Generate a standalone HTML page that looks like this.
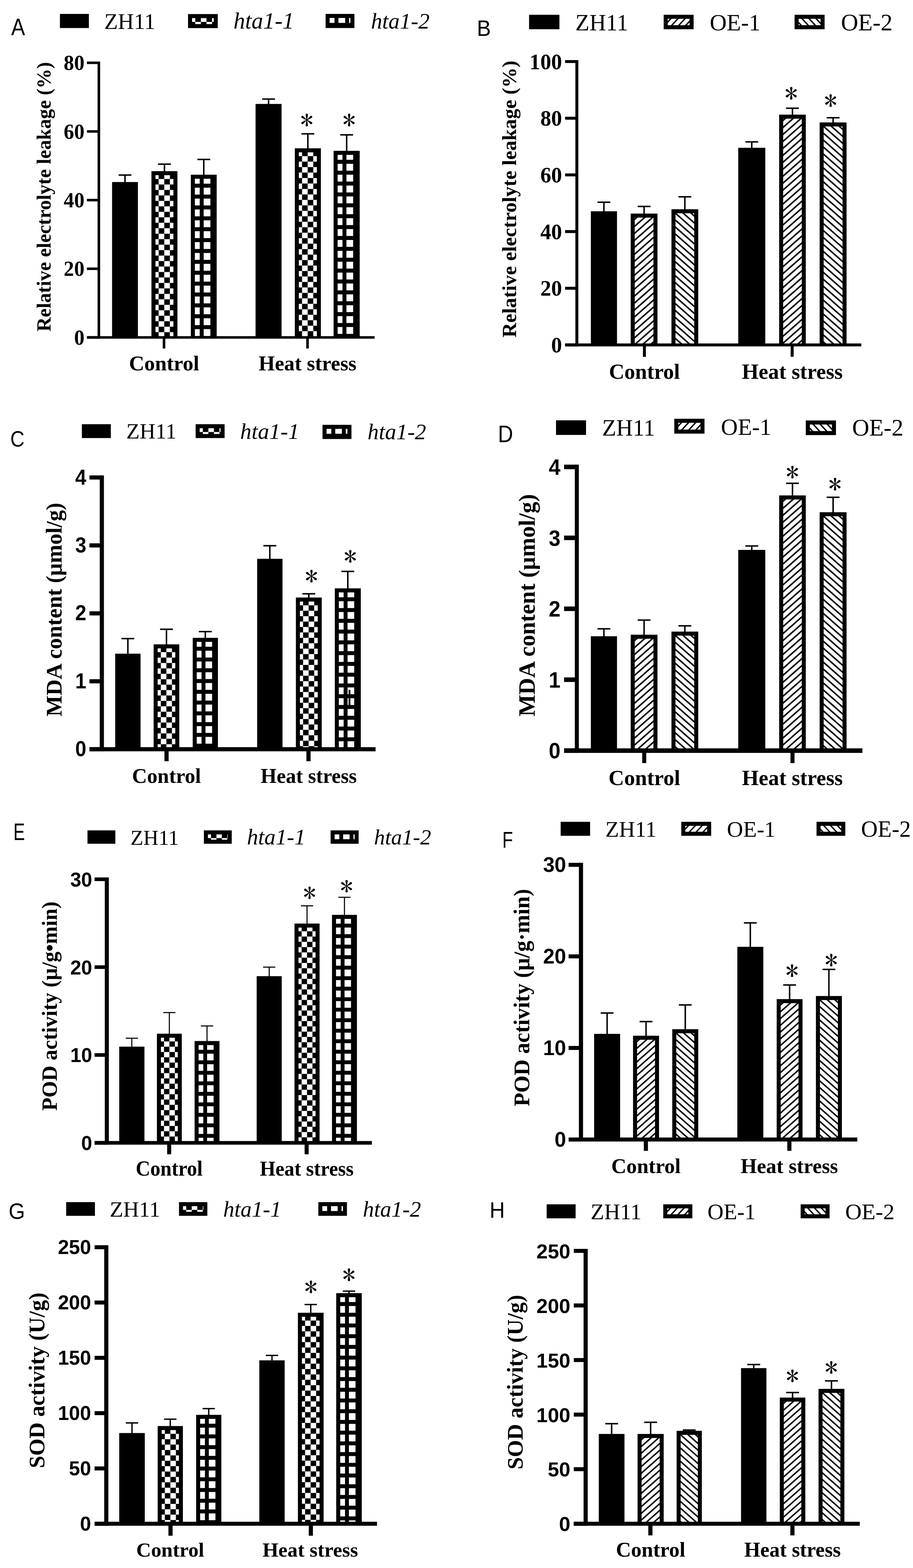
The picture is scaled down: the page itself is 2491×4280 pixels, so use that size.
<!DOCTYPE html>
<html lang="en">
<head>
<meta charset="utf-8">
<title>Figure: electrolyte leakage, MDA content, POD and SOD activity under heat stress</title>
<style>
html,body{margin:0;padding:0;background:#fff;}
body{width:2491px;height:4280px;overflow:hidden;}
svg{display:block;}
text{fill:#000;white-space:pre;}
.s{font-family:"Liberation Serif","DejaVu Serif",serif;}
.a{font-family:"Liberation Sans","DejaVu Sans",sans-serif;}
.b{font-weight:bold;}
.i{font-style:italic;}
.st{font-family:"IPAGothic","IPAPGothic","Liberation Serif",serif;}
</style>
</head>
<body>
<svg width="2491" height="4280" viewBox="0 0 2491 4280">
<defs>
<pattern id="ck" patternUnits="userSpaceOnUse" x="-6.6" y="-4.5" width="30.6" height="29.86">
<rect width="30.6" height="29.86" fill="#000"/>
<rect x="0" y="0" width="15.3" height="14.93" fill="#fff"/>
<rect x="15.3" y="14.93" width="15.3" height="14.93" fill="#fff"/>
</pattern>
<pattern id="gr" patternUnits="userSpaceOnUse" x="-5.1" y="-5.3" width="29.1" height="29.7">
<rect width="29.1" height="29.7" fill="#000"/>
<rect x="0" y="0" width="18.3" height="18.8" fill="#fff"/>
</pattern>
<pattern id="hf" patternUnits="userSpaceOnUse" x="0" y="-14.5" width="21.5" height="19">
<rect width="21.5" height="19" fill="#fff"/>
<path d="M-21.5 38 L43 -19 M-21.5 19 L21.5 -19 M0 38 L43 0" stroke="#000" stroke-width="4.1" fill="none"/>
</pattern>
<pattern id="hb" patternUnits="userSpaceOnUse" x="0" y="0" width="21.5" height="19">
<rect width="21.5" height="19" fill="#fff"/>
<path d="M-21.5 -19 L43 38 M0 -19 L43 19 M-21.5 0 L21.5 38" stroke="#000" stroke-width="4.1" fill="none"/>
</pattern>
<pattern id="hfl" patternUnits="userSpaceOnUse" x="8.2" y="0" width="19.3" height="20.8">
<rect width="19.3" height="20.8" fill="#fff"/>
<path d="M-19.3 41.6 L38.6 -20.8 M-19.3 20.8 L19.3 -20.8 M0 41.6 L38.6 0" stroke="#000" stroke-width="3.8" fill="none"/>
</pattern>
<pattern id="hbl" patternUnits="userSpaceOnUse" x="9.7" y="0" width="19.3" height="20.8">
<rect width="19.3" height="20.8" fill="#fff"/>
<path d="M-19.3 -20.8 L38.6 41.6 M0 -20.8 L38.6 20.8 M-19.3 0 L19.3 41.6" stroke="#000" stroke-width="3.8" fill="none"/>
</pattern>
</defs>
<g id="panel-a">
<text class="a" font-size="64.06" transform="translate(30.6 96) scale(0.8846 1)">A</text>
<rect x="163.5" y="38" width="79" height="38.5"/>
<rect x="513" y="38.4" width="81.1" height="38.3"/>
<rect transform="translate(524 49.4) scale(1)" x="0" y="0" width="59.1" height="16.3" fill="url(#ck)"/>
<rect x="888.4" y="38" width="78.6" height="38.5"/>
<rect transform="translate(899.4 49) scale(1)" x="0" y="0" width="56.6" height="16.5" fill="url(#gr)"/>
<text class="s" font-size="60.78" x="284.46" y="78.6">ZH11</text>
<text class="s i" font-size="63.41" x="636.96" y="77.8">hta1-1</text>
<text class="s i" font-size="61.25" x="1012.15" y="77.8">hta1-2</text>
<rect x="339.05" y="477.8" width="4" height="20.1"/>
<rect x="323.55" y="475.8" width="35" height="4"/>
<rect x="305.8" y="496.9" width="70.5" height="424.1"/>
<rect x="446.65" y="448" width="4" height="20.2"/>
<rect x="431.15" y="446" width="35" height="4"/>
<rect x="413.2" y="467.2" width="70.9" height="453.8"/>
<rect transform="translate(424.2 478.2) scale(1)" x="0" y="0" width="48.9" height="442.8" fill="url(#ck)"/>
<rect x="553.95" y="435.2" width="4" height="42.7"/>
<rect x="538.45" y="433.2" width="35" height="4"/>
<rect x="520.7" y="476.9" width="70.5" height="444.1"/>
<rect transform="translate(531.7 487.9) scale(1)" x="0" y="0" width="48.5" height="433.1" fill="url(#gr)"/>
<rect x="730.75" y="270.4" width="4" height="14.3"/>
<rect x="715.25" y="268.4" width="35" height="4"/>
<rect x="697.3" y="283.7" width="70.9" height="637.3"/>
<rect x="837.95" y="365.3" width="4" height="40.5"/>
<rect x="822.45" y="363.3" width="35" height="4"/>
<rect x="804.4" y="404.8" width="71.1" height="516.2"/>
<rect transform="translate(815.4 415.8) scale(1)" x="0" y="0" width="49.1" height="505.2" fill="url(#ck)"/>
<rect x="943.8" y="368.1" width="4" height="44.6"/>
<rect x="928.3" y="366.1" width="35" height="4"/>
<rect x="910.2" y="411.7" width="71.2" height="509.3"/>
<rect transform="translate(921.2 422.7) scale(1)" x="0" y="0" width="49.2" height="498.3" fill="url(#gr)"/>
<rect x="266.15" y="167.95" width="7.1" height="756.5"/>
<rect x="237.1" y="167.95" width="32.6" height="6.9"/>
<text class="s b" font-size="59" text-anchor="end" transform="translate(230.5 191.16) scale(0.96 1)">80</text>
<rect x="237.1" y="355.35" width="32.6" height="6.9"/>
<text class="s b" font-size="59" text-anchor="end" transform="translate(230.5 378.56) scale(0.96 1)">60</text>
<rect x="237.1" y="542.75" width="32.6" height="6.9"/>
<text class="s b" font-size="59" text-anchor="end" transform="translate(230.5 565.96) scale(0.96 1)">40</text>
<rect x="237.1" y="730.15" width="32.6" height="6.9"/>
<text class="s b" font-size="59" text-anchor="end" transform="translate(230.5 753.36) scale(0.96 1)">20</text>
<rect x="237.1" y="917.55" width="32.6" height="6.9"/>
<text class="s b" font-size="59" text-anchor="end" transform="translate(230.5 940.75) scale(0.96 1)">0</text>
<rect x="237.8" y="917.55" width="784.2" height="6.9"/>
<rect x="443.95" y="921" width="7.1" height="30.3"/>
<rect x="835.45" y="921" width="7.1" height="30.3"/>
<text class="s b" font-size="57.75" x="352.11" y="1010.7">Control</text>
<text class="s b" font-size="57.13" x="705.56" y="1010.7">Heat stress</text>
<text class="s b" font-size="54.26" transform="translate(138.2 905.09) rotate(-90)">Relative electrolyte leakage (%)</text>
<text class="st" font-size="69.6" transform="translate(819.2 354.05) scale(1.023 1)">*</text>
<text class="st" font-size="69.6" transform="translate(934.8 354.05) scale(1.023 1)">*</text>
</g>
<g id="panel-b">
<text class="a" font-size="61.59" transform="translate(1300.9 97.7) scale(0.9343 1)">B</text>
<rect x="1443.5" y="40.3" width="82.8" height="39.5"/>
<rect x="1810.8" y="40.3" width="81.6" height="39.5"/>
<rect transform="translate(1821.8 51.3) scale(1)" x="0" y="0" width="59.6" height="17.5" fill="url(#hfl)"/>
<rect x="2167.9" y="40.3" width="81.9" height="39.5"/>
<rect transform="translate(2178.9 51.3) scale(1)" x="0" y="0" width="59.9" height="17.5" fill="url(#hbl)"/>
<text class="s" font-size="62.71" x="1569.86" y="82.8">ZH11</text>
<text class="s" font-size="63.93" x="1936.44" y="82.8">OE-1</text>
<text class="s" font-size="65.02" x="2294.4" y="82.8">OE-2</text>
<rect x="1645.7" y="552" width="4" height="25.7"/>
<rect x="1630.2" y="550" width="35" height="4"/>
<rect x="1612" y="576.7" width="71.4" height="364.8"/>
<rect x="1755.3" y="563.5" width="4" height="20.5"/>
<rect x="1739.8" y="561.5" width="35" height="4"/>
<rect x="1720.8" y="583" width="73" height="358.5"/>
<rect transform="translate(1731.8 594) scale(1)" x="0" y="0" width="51" height="347.5" fill="url(#hf)"/>
<rect x="1866.55" y="537.2" width="4" height="35"/>
<rect x="1851.05" y="535.2" width="35" height="4"/>
<rect x="1832" y="571.2" width="73.1" height="370.3"/>
<rect transform="translate(1843 582.2) scale(1)" x="0" y="0" width="51.1" height="359.3" fill="url(#hb)"/>
<rect x="2049.1" y="387.3" width="4" height="17.1"/>
<rect x="2033.6" y="385.3" width="35" height="4"/>
<rect x="2014.2" y="403.4" width="73.8" height="538.1"/>
<rect x="2160.15" y="295.4" width="4" height="18.5"/>
<rect x="2144.65" y="293.4" width="35" height="4"/>
<rect x="2125.8" y="312.9" width="72.7" height="628.6"/>
<rect transform="translate(2136.8 323.9) scale(1)" x="0" y="0" width="50.7" height="617.6" fill="url(#hf)"/>
<rect x="2271" y="321.4" width="4" height="13.8"/>
<rect x="2255.5" y="319.4" width="35" height="4"/>
<rect x="2236.3" y="334.2" width="73.4" height="607.3"/>
<rect transform="translate(2247.3 345.2) scale(1)" x="0" y="0" width="51.4" height="596.3" fill="url(#hb)"/>
<rect x="1569.85" y="164" width="8.1" height="781.5"/>
<rect x="1541.8" y="164" width="32.1" height="8"/>
<text class="s b" font-size="60.5" text-anchor="end" transform="translate(1533.5 188.67) scale(0.98 1)">100</text>
<rect x="1541.8" y="318.7" width="32.1" height="8"/>
<text class="s b" font-size="60.5" text-anchor="end" transform="translate(1533.5 343.37) scale(0.98 1)">80</text>
<rect x="1541.8" y="473.4" width="32.1" height="8"/>
<text class="s b" font-size="60.5" text-anchor="end" transform="translate(1533.5 498.07) scale(0.98 1)">60</text>
<rect x="1541.8" y="628.1" width="32.1" height="8"/>
<text class="s b" font-size="60.5" text-anchor="end" transform="translate(1533.5 652.77) scale(0.98 1)">40</text>
<rect x="1541.8" y="782.8" width="32.1" height="8"/>
<text class="s b" font-size="60.5" text-anchor="end" transform="translate(1533.5 807.47) scale(0.98 1)">20</text>
<rect x="1541.8" y="937.5" width="32.1" height="8"/>
<text class="s b" font-size="60.5" text-anchor="end" transform="translate(1533.5 962.17) scale(0.98 1)">0</text>
<rect x="1541.8" y="937.5" width="808.2" height="8"/>
<rect x="1754.15" y="941.5" width="8.1" height="32.5"/>
<rect x="2157.25" y="941.5" width="8.1" height="32.5"/>
<text class="s b" font-size="58.43" x="1661.38" y="1033.5">Control</text>
<text class="s b" font-size="58.88" x="2024.02" y="1033.5">Heat stress</text>
<text class="s b" font-size="55.76" transform="translate(1407.8 921.32) rotate(-90)">Relative electrolyte leakage (%)</text>
<text class="st" font-size="69.6" transform="translate(2141.1 280.95) scale(1.023 1)">*</text>
<text class="st" font-size="69.6" transform="translate(2248.4 300.65) scale(1.023 1)">*</text>
</g>
<g id="panel-c">
<text class="a" font-size="60.99" transform="translate(27.9 1218.89) scale(0.8849 1)">C</text>
<rect x="223.4" y="1157.9" width="79" height="37.8"/>
<rect x="533.8" y="1157.9" width="79" height="37.8"/>
<rect transform="translate(544.8 1168.9) scale(0.99)" x="0" y="0" width="57.58" height="15.96" fill="url(#ck)"/>
<rect x="879.9" y="1159.6" width="79" height="38.7"/>
<rect transform="translate(890.9 1170.6) scale(0.99)" x="0" y="0" width="57.58" height="16.87" fill="url(#gr)"/>
<text class="s" font-size="59.82" x="344.41" y="1197.4">ZH11</text>
<text class="s i" font-size="61.83" x="655.33" y="1197.5">hta1-1</text>
<text class="s i" font-size="61.29" x="1002.75" y="1199.3">hta1-2</text>
<rect x="346.9" y="1743.1" width="4" height="42.2"/>
<rect x="331.4" y="1741.1" width="35" height="4"/>
<rect x="314.3" y="1784.3" width="69.2" height="260.8"/>
<rect x="452.2" y="1717.6" width="4" height="42.2"/>
<rect x="436.7" y="1715.6" width="35" height="4"/>
<rect x="419.2" y="1758.8" width="70" height="286.3"/>
<rect transform="translate(430.2 1769.8) scale(0.99)" x="0" y="0" width="48.48" height="278.08" fill="url(#ck)"/>
<rect x="558.2" y="1724" width="4" height="18"/>
<rect x="542.7" y="1722" width="35" height="4"/>
<rect x="525.8" y="1741" width="68.8" height="304.1"/>
<rect transform="translate(536.8 1752) scale(0.99)" x="0" y="0" width="47.27" height="296.06" fill="url(#gr)"/>
<rect x="734.2" y="1489.6" width="4" height="36.7"/>
<rect x="718.7" y="1487.6" width="35" height="4"/>
<rect x="701.6" y="1525.3" width="69.2" height="519.8"/>
<rect x="840.55" y="1620.8" width="4" height="11.2"/>
<rect x="825.05" y="1618.8" width="35" height="4"/>
<rect x="807.3" y="1631" width="70.5" height="414.1"/>
<rect transform="translate(818.3 1642) scale(0.99)" x="0" y="0" width="48.99" height="407.17" fill="url(#ck)"/>
<rect x="946.95" y="1559.7" width="4" height="47.3"/>
<rect x="931.45" y="1557.7" width="35" height="4"/>
<rect x="913.5" y="1606" width="70.9" height="439.1"/>
<rect transform="translate(924.5 1617) scale(0.99)" x="0" y="0" width="49.39" height="432.42" fill="url(#gr)"/>
<rect x="951.1" y="1883" width="4.9" height="44"/>
<rect x="272.1" y="1297.65" width="11.4" height="753.1"/>
<rect x="244.1" y="1297.65" width="33.7" height="11.3"/>
<text class="a b" font-size="58.5" text-anchor="end" transform="translate(235.5 1322.58) scale(0.93 1)">4</text>
<rect x="244.1" y="1483.1" width="33.7" height="11.3"/>
<text class="a b" font-size="58.5" text-anchor="end" transform="translate(235.5 1508.03) scale(0.93 1)">3</text>
<rect x="244.1" y="1668.55" width="33.7" height="11.3"/>
<text class="a b" font-size="58.5" text-anchor="end" transform="translate(235.5 1693.48) scale(0.93 1)">2</text>
<rect x="244.1" y="1854" width="33.7" height="11.3"/>
<text class="a b" font-size="58.5" text-anchor="end" transform="translate(235.5 1878.93) scale(0.93 1)">1</text>
<rect x="244.1" y="2039.45" width="33.7" height="11.3"/>
<text class="a b" font-size="58.5" text-anchor="end" transform="translate(235.5 2064.38) scale(0.93 1)">0</text>
<rect x="244.2" y="2039.45" width="780.5" height="11.3"/>
<rect x="448.7" y="2045.1" width="11.4" height="32.7"/>
<rect x="836" y="2045.1" width="11.4" height="32.7"/>
<text class="s b" font-size="56.74" x="360.26" y="2136.5">Control</text>
<text class="s b" font-size="56.13" x="711.08" y="2136.5">Heat stress</text>
<text class="s b" font-size="60.61" transform="translate(168 1955.41) rotate(-90)">MDA content (μmol/g)</text>
<text class="st" font-size="69.6" transform="translate(832 1599.25) scale(1.023 1)">*</text>
<text class="st" font-size="69.6" transform="translate(938 1545.45) scale(1.023 1)">*</text>
</g>
<g id="panel-d">
<text class="a" font-size="64.93" transform="translate(1358.62 1207) scale(0.8823 1)">D</text>
<rect x="1517" y="1147.3" width="81.9" height="39.9"/>
<rect x="1839.7" y="1143" width="82.4" height="40.6"/>
<rect transform="translate(1850.7 1154) scale(1)" x="0" y="0" width="60.4" height="18.6" fill="url(#hfl)"/>
<rect x="2198.5" y="1147.7" width="82.3" height="39.9"/>
<rect transform="translate(2209.5 1158.7) scale(1)" x="0" y="0" width="60.3" height="17.9" fill="url(#hbl)"/>
<text class="s" font-size="62.94" x="1642.85" y="1188.9">ZH11</text>
<text class="s" font-size="63.5" x="1967.06" y="1186.8">OE-1</text>
<text class="s" font-size="64.64" x="2324.91" y="1189">OE-2</text>
<rect x="1645.7" y="1716.4" width="4" height="21.3"/>
<rect x="1630.2" y="1714.4" width="35" height="4"/>
<rect x="1612" y="1736.7" width="71.4" height="312.2"/>
<rect x="1755.3" y="1692.6" width="4" height="40.9"/>
<rect x="1739.8" y="1690.6" width="35" height="4"/>
<rect x="1720.8" y="1732.5" width="73" height="316.4"/>
<rect transform="translate(1731.8 1743.5) scale(1)" x="0" y="0" width="51" height="305.4" fill="url(#hf)"/>
<rect x="1866.55" y="1708.3" width="4" height="16.7"/>
<rect x="1851.05" y="1706.3" width="35" height="4"/>
<rect x="1832" y="1724" width="73.1" height="324.9"/>
<rect transform="translate(1843 1735) scale(1)" x="0" y="0" width="51.1" height="313.9" fill="url(#hb)"/>
<rect x="2049.1" y="1490.3" width="4" height="11.7"/>
<rect x="2033.6" y="1488.3" width="35" height="4"/>
<rect x="2014.2" y="1501" width="73.8" height="547.9"/>
<rect x="2160.2" y="1319.2" width="4" height="34.1"/>
<rect x="2144.7" y="1317.2" width="35" height="4"/>
<rect x="2125.9" y="1352.3" width="72.6" height="696.6"/>
<rect transform="translate(2136.9 1363.3) scale(1)" x="0" y="0" width="50.6" height="685.6" fill="url(#hf)"/>
<rect x="2271" y="1357.4" width="4" height="41.8"/>
<rect x="2255.5" y="1355.4" width="35" height="4"/>
<rect x="2236.3" y="1398.2" width="73.4" height="650.7"/>
<rect transform="translate(2247.3 1409.2) scale(1)" x="0" y="0" width="51.4" height="639.7" fill="url(#hb)"/>
<rect x="1568.3" y="1268.3" width="11" height="786.8"/>
<rect x="1539" y="1268.3" width="34.8" height="12.4"/>
<text class="a b" font-size="60.5" text-anchor="end" transform="translate(1529.2 1295.97) scale(0.95 1)">4</text>
<rect x="1539" y="1461.9" width="34.8" height="12.4"/>
<text class="a b" font-size="60.5" text-anchor="end" transform="translate(1529.2 1489.57) scale(0.95 1)">3</text>
<rect x="1539" y="1655.5" width="34.8" height="12.4"/>
<text class="a b" font-size="60.5" text-anchor="end" transform="translate(1529.2 1683.17) scale(0.95 1)">2</text>
<rect x="1539" y="1849.1" width="34.8" height="12.4"/>
<text class="a b" font-size="60.5" text-anchor="end" transform="translate(1529.2 1876.77) scale(0.95 1)">1</text>
<rect x="1539" y="2042.7" width="34.8" height="12.4"/>
<text class="a b" font-size="60.5" text-anchor="end" transform="translate(1529.2 2070.37) scale(0.95 1)">0</text>
<rect x="1539" y="2042.7" width="814" height="12.4"/>
<rect x="1752.2" y="2048.9" width="11" height="34"/>
<rect x="2156.7" y="2048.9" width="11" height="34"/>
<text class="s b" font-size="58.98" x="1660.35" y="2142.7">Control</text>
<text class="s b" font-size="58.86" x="2024.32" y="2142.7">Heat stress</text>
<text class="s b" font-size="63.09" transform="translate(1459.1 1955.46) rotate(-90)">MDA content (μmol/g)</text>
<text class="st" font-size="69.6" transform="translate(2144.2 1315.15) scale(1.023 1)">*</text>
<text class="st" font-size="69.6" transform="translate(2260.5 1347.75) scale(1.023 1)">*</text>
</g>
<g id="panel-e">
<text class="a" font-size="65.51" transform="translate(36.52 2293.4) scale(0.7209 1)">E</text>
<rect x="238.7" y="2266.6" width="76" height="36.5"/>
<rect x="556.3" y="2266.6" width="76" height="36.5"/>
<rect transform="translate(567.3 2277.6) scale(0.966)" x="0" y="0" width="55.9" height="15.01" fill="url(#ck)"/>
<rect x="902" y="2266.6" width="76.5" height="36.5"/>
<rect transform="translate(913 2277.6) scale(0.966)" x="0" y="0" width="56.42" height="15.01" fill="url(#gr)"/>
<text class="s" font-size="57.43" x="356.03" y="2305.6">ZH11</text>
<text class="s i" font-size="61.26" x="673.65" y="2305">hta1-1</text>
<text class="s i" font-size="59.61" x="1020.62" y="2305">hta1-2</text>
<rect x="358.25" y="2833.9" width="2.9" height="24"/>
<rect x="343" y="2832.45" width="33.4" height="2.9"/>
<rect x="325.3" y="2856.9" width="68.8" height="262.6"/>
<rect x="460.6" y="2763.9" width="2.9" height="58.7"/>
<rect x="445.35" y="2762.45" width="33.4" height="2.9"/>
<rect x="428.1" y="2821.6" width="67.9" height="297.9"/>
<rect transform="translate(439.1 2832.6) scale(0.966)" x="0" y="0" width="47.52" height="297" fill="url(#ck)"/>
<rect x="563.4" y="2800.4" width="2.9" height="42.2"/>
<rect x="548.15" y="2798.95" width="33.4" height="2.9"/>
<rect x="530.9" y="2841.6" width="67.9" height="277.9"/>
<rect transform="translate(541.9 2852.6) scale(0.966)" x="0" y="0" width="47.52" height="276.29" fill="url(#gr)"/>
<rect x="733.05" y="2639.9" width="2.9" height="25.6"/>
<rect x="717.8" y="2638.45" width="33.4" height="2.9"/>
<rect x="700.3" y="2664.5" width="68.4" height="455"/>
<rect x="836.25" y="2472.5" width="2.9" height="49.4"/>
<rect x="821" y="2471.05" width="33.4" height="2.9"/>
<rect x="803.5" y="2520.9" width="68.4" height="598.6"/>
<rect transform="translate(814.5 2531.9) scale(0.966)" x="0" y="0" width="48.03" height="608.28" fill="url(#ck)"/>
<rect x="938.35" y="2449.2" width="2.9" height="49"/>
<rect x="923.1" y="2447.75" width="33.4" height="2.9"/>
<rect x="905.8" y="2497.2" width="68" height="622.3"/>
<rect transform="translate(916.8 2508.2) scale(0.966)" x="0" y="0" width="47.62" height="632.82" fill="url(#gr)"/>
<rect x="285.9" y="2395.05" width="11" height="729.4"/>
<rect x="258" y="2395.05" width="33.4" height="9.9"/>
<text class="a b" font-size="55.5" text-anchor="end" transform="translate(251.5 2419.75) scale(0.97 1)">30</text>
<rect x="258" y="2634.88" width="33.4" height="9.9"/>
<text class="a b" font-size="55.5" text-anchor="end" transform="translate(251.5 2659.58) scale(0.97 1)">20</text>
<rect x="258" y="2874.72" width="33.4" height="9.9"/>
<text class="a b" font-size="55.5" text-anchor="end" transform="translate(251.5 2899.41) scale(0.97 1)">10</text>
<rect x="258" y="3114.55" width="33.4" height="9.9"/>
<text class="a b" font-size="55.5" text-anchor="end" transform="translate(251.5 3139.25) scale(0.97 1)">0</text>
<rect x="258.2" y="3114.55" width="756.4" height="9.9"/>
<rect x="456.1" y="3119.5" width="11" height="31.2"/>
<rect x="831.1" y="3119.5" width="11" height="31.2"/>
<text class="s b" font-size="55.14" transform="translate(370.14 3208.5) scale(1 1.06)">Control</text>
<text class="s b" font-size="54.77" transform="translate(708.9 3208.5) scale(1 1.06)">Heat stress</text>
<text class="s b" font-size="58.26" transform="translate(155.4 3031.67) rotate(-90)">POD activity (μ/g•min)</text>
<text class="st" font-size="67" transform="translate(826.98 2462.66) scale(1.052 1)">*</text>
<text class="st" font-size="67" transform="translate(928.08 2444.76) scale(1.052 1)">*</text>
</g>
<g id="panel-f">
<text class="a" font-size="63.33" transform="translate(1370.5 2314.1) scale(0.7508 1)">F</text>
<rect x="1529.7" y="2243.2" width="80.3" height="38.2"/>
<rect x="1858.8" y="2243.2" width="81.5" height="38.2"/>
<rect transform="translate(1869.8 2254.2) scale(0.97)" x="0" y="0" width="61.34" height="16.7" fill="url(#hfl)"/>
<rect x="2227.8" y="2243.2" width="78.5" height="38.2"/>
<rect transform="translate(2238.8 2254.2) scale(0.97)" x="0" y="0" width="58.25" height="16.7" fill="url(#hbl)"/>
<text class="s" font-size="61.01" x="1651.45" y="2284.4">ZH11</text>
<text class="s" font-size="61.21" x="1983.35" y="2284">OE-1</text>
<text class="s" font-size="62.8" x="2349.19" y="2284">OE-2</text>
<rect x="1654.45" y="2765.1" width="4" height="57.9"/>
<rect x="1638.95" y="2763.1" width="35" height="4"/>
<rect x="1621" y="2822" width="70.9" height="288.4"/>
<rect x="1760.65" y="2788.5" width="4" height="39.6"/>
<rect x="1745.15" y="2786.5" width="35" height="4"/>
<rect x="1727.2" y="2827.1" width="70.9" height="283.3"/>
<rect transform="translate(1738.2 2838.1) scale(0.97)" x="0" y="0" width="50.41" height="280.72" fill="url(#hf)"/>
<rect x="1867.65" y="2743" width="4" height="67.3"/>
<rect x="1852.15" y="2741" width="35" height="4"/>
<rect x="1834.2" y="2809.3" width="70.9" height="301.1"/>
<rect transform="translate(1845.2 2820.3) scale(0.97)" x="0" y="0" width="50.41" height="299.07" fill="url(#hb)"/>
<rect x="2045.15" y="2519.1" width="4" height="66.4"/>
<rect x="2029.65" y="2517.1" width="35" height="4"/>
<rect x="2011.7" y="2584.5" width="70.9" height="525.9"/>
<rect x="2152.35" y="2688.6" width="4" height="39.6"/>
<rect x="2136.85" y="2686.6" width="35" height="4"/>
<rect x="2119.1" y="2727.2" width="70.5" height="383.2"/>
<rect transform="translate(2130.1 2738.2) scale(0.97)" x="0" y="0" width="50" height="383.71" fill="url(#hf)"/>
<rect x="2259.55" y="2646.1" width="4" height="73.6"/>
<rect x="2244.05" y="2644.1" width="35" height="4"/>
<rect x="2226.1" y="2718.7" width="70.9" height="391.7"/>
<rect transform="translate(2237.1 2729.7) scale(0.97)" x="0" y="0" width="50.41" height="392.47" fill="url(#hb)"/>
<rect x="1579.45" y="2355.15" width="11.3" height="760.7"/>
<rect x="1551.4" y="2355.15" width="33.7" height="10.9"/>
<text class="a b" font-size="56.5" text-anchor="end" transform="translate(1544.5 2380.19) scale(1 1)">30</text>
<rect x="1551.4" y="2605.08" width="33.7" height="10.9"/>
<text class="a b" font-size="56.5" text-anchor="end" transform="translate(1544.5 2630.13) scale(1 1)">20</text>
<rect x="1551.4" y="2855.02" width="33.7" height="10.9"/>
<text class="a b" font-size="56.5" text-anchor="end" transform="translate(1544.5 2880.06) scale(1 1)">10</text>
<rect x="1551.4" y="3104.95" width="33.7" height="10.9"/>
<text class="a b" font-size="56.5" text-anchor="end" transform="translate(1544.5 3129.99) scale(1 1)">0</text>
<rect x="1552.6" y="3104.95" width="786.4" height="10.9"/>
<rect x="1756.55" y="3110.4" width="11.3" height="31"/>
<rect x="2148.05" y="3110.4" width="11.3" height="31"/>
<text class="s b" font-size="57.11" x="1667.84" y="3201.6">Control</text>
<text class="s b" font-size="56.87" x="2020.66" y="3201.6">Heat stress</text>
<text class="s b" font-size="60.63" transform="translate(1444.2 3019.71) rotate(-90)">POD activity (μ/g·min)</text>
<text class="st" font-size="69.6" transform="translate(2143.3 2675.95) scale(1.023 1)">*</text>
<text class="st" font-size="69.6" transform="translate(2250.3 2647.05) scale(1.023 1)">*</text>
</g>
<g id="panel-g">
<text class="a" font-size="61.69" transform="translate(23.42 3327.48) scale(0.9327 1)">G</text>
<rect x="180.5" y="3281.3" width="78.5" height="37.4"/>
<rect x="488.4" y="3281.3" width="77.3" height="37.4"/>
<rect transform="translate(499.4 3292.3) scale(0.985)" x="0" y="0" width="56.14" height="15.63" fill="url(#ck)"/>
<rect x="868.5" y="3281.3" width="78.1" height="37.4"/>
<rect transform="translate(879.5 3292.3) scale(0.985)" x="0" y="0" width="56.95" height="15.63" fill="url(#gr)"/>
<text class="s" font-size="60" x="299.4" y="3321.3">ZH11</text>
<text class="s i" font-size="60.77" x="609.07" y="3321">hta1-1</text>
<text class="s i" font-size="60.78" x="990.07" y="3321">hta1-2</text>
<rect x="358.3" y="3884" width="3.7" height="28.6"/>
<rect x="343.35" y="3882.15" width="33.6" height="3.7"/>
<rect x="325.3" y="3911.6" width="69.7" height="247.6"/>
<rect x="462.75" y="3873.8" width="3.7" height="19.7"/>
<rect x="447.8" y="3871.95" width="33.6" height="3.7"/>
<rect x="430.2" y="3892.5" width="68.8" height="266.7"/>
<rect transform="translate(441.2 3903.5) scale(0.985)" x="0" y="0" width="47.51" height="259.59" fill="url(#ck)"/>
<rect x="567.65" y="3844.9" width="3.7" height="18"/>
<rect x="552.7" y="3843.05" width="33.6" height="3.7"/>
<rect x="535.1" y="3861.9" width="68.8" height="297.3"/>
<rect transform="translate(546.1 3872.9) scale(0.985)" x="0" y="0" width="47.51" height="290.66" fill="url(#gr)"/>
<rect x="740.25" y="3699.7" width="3.7" height="14.5"/>
<rect x="725.3" y="3697.85" width="33.6" height="3.7"/>
<rect x="707.5" y="3713.2" width="69.2" height="446"/>
<rect x="846" y="3560.8" width="3.7" height="23.5"/>
<rect x="831.05" y="3558.95" width="33.6" height="3.7"/>
<rect x="812.8" y="3583.3" width="70.1" height="575.9"/>
<rect transform="translate(823.8 3594.3) scale(0.985)" x="0" y="0" width="48.83" height="573.5" fill="url(#ck)"/>
<rect x="950.3" y="3524.3" width="3.7" height="6.5"/>
<rect x="935.35" y="3522.45" width="33.6" height="3.7"/>
<rect x="917.3" y="3529.8" width="69.7" height="629.4"/>
<rect transform="translate(928.3 3540.8) scale(0.985)" x="0" y="0" width="48.43" height="627.82" fill="url(#gr)"/>
<rect x="284.35" y="3398.95" width="11.3" height="765.7"/>
<rect x="258" y="3398.95" width="32" height="10.9"/>
<text class="a b" font-size="56" text-anchor="end" transform="translate(248.5 3423.42) scale(0.97 1)">250</text>
<rect x="258" y="3549.91" width="32" height="10.9"/>
<text class="a b" font-size="56" text-anchor="end" transform="translate(248.5 3574.38) scale(0.97 1)">200</text>
<rect x="258" y="3700.87" width="32" height="10.9"/>
<text class="a b" font-size="56" text-anchor="end" transform="translate(248.5 3725.34) scale(0.97 1)">150</text>
<rect x="258" y="3851.83" width="32" height="10.9"/>
<text class="a b" font-size="56" text-anchor="end" transform="translate(248.5 3876.3) scale(0.97 1)">100</text>
<rect x="258" y="4002.79" width="32" height="10.9"/>
<text class="a b" font-size="56" text-anchor="end" transform="translate(248.5 4027.26) scale(0.97 1)">50</text>
<rect x="258" y="4153.75" width="32" height="10.9"/>
<text class="a b" font-size="56" text-anchor="end" transform="translate(248.5 4178.22) scale(0.97 1)">0</text>
<rect x="258.2" y="4153.75" width="770.4" height="10.9"/>
<rect x="459.55" y="4159.2" width="11.3" height="32.7"/>
<rect x="842.45" y="4159.2" width="11.3" height="32.7"/>
<text class="s b" font-size="55.91" x="371.8" y="4249.2">Control</text>
<text class="s b" font-size="55.77" x="716.18" y="4249.2">Heat stress</text>
<text class="s b" font-size="60.78" transform="translate(121 4007.44) rotate(-90)">SOD activity (U/g)</text>
<text class="st" font-size="69.6" transform="translate(830.4 3539.05) scale(1.023 1)">*</text>
<text class="st" font-size="69.6" transform="translate(934.2 3505.55) scale(1.023 1)">*</text>
</g>
<g id="panel-h">
<text class="a" font-size="61.59" transform="translate(1335.69 3323.8) scale(0.9364 1)">H</text>
<rect x="1491.5" y="3287.3" width="79" height="38.2"/>
<rect x="1809.6" y="3287.3" width="79.4" height="38.2"/>
<rect transform="translate(1820.6 3298.3) scale(0.96)" x="0" y="0" width="59.79" height="16.87" fill="url(#hfl)"/>
<rect x="2184.5" y="3287.3" width="78.9" height="38.2"/>
<rect transform="translate(2195.5 3298.3) scale(0.96)" x="0" y="0" width="59.27" height="16.87" fill="url(#hbl)"/>
<text class="s" font-size="60.41" x="1611.58" y="3328.1">ZH11</text>
<text class="s" font-size="60.78" x="1930.27" y="3328">OE-1</text>
<text class="s" font-size="62.17" x="2305.91" y="3328">OE-2</text>
<rect x="1666.75" y="3886.1" width="4" height="29"/>
<rect x="1651.25" y="3884.1" width="35" height="4"/>
<rect x="1633.7" y="3914.1" width="70.1" height="245.1"/>
<rect x="1773.15" y="3882.3" width="4" height="32.8"/>
<rect x="1757.65" y="3880.3" width="35" height="4"/>
<rect x="1739.5" y="3914.1" width="71.3" height="245.1"/>
<rect transform="translate(1750.5 3925.1) scale(0.96)" x="0" y="0" width="51.35" height="243.85" fill="url(#hf)"/>
<rect x="1878.5" y="3903.5" width="4" height="3.1"/>
<rect x="1863" y="3901.5" width="35" height="4"/>
<rect x="1846.1" y="3905.6" width="68.8" height="253.6"/>
<rect transform="translate(1857.1 3916.6) scale(0.96)" x="0" y="0" width="48.75" height="252.71" fill="url(#hb)"/>
<rect x="2054.45" y="3724.6" width="4" height="10.8"/>
<rect x="2038.95" y="3722.6" width="35" height="4"/>
<rect x="2021.8" y="3734.4" width="69.3" height="424.8"/>
<rect x="2160.4" y="3801" width="4" height="14.8"/>
<rect x="2144.9" y="3799" width="35" height="4"/>
<rect x="2127.6" y="3814.8" width="69.6" height="344.4"/>
<rect transform="translate(2138.6 3825.8) scale(0.96)" x="0" y="0" width="49.58" height="347.29" fill="url(#hf)"/>
<rect x="2266.55" y="3769.2" width="4" height="22.8"/>
<rect x="2251.05" y="3767.2" width="35" height="4"/>
<rect x="2233.3" y="3791" width="70.5" height="368.2"/>
<rect transform="translate(2244.3 3802) scale(0.96)" x="0" y="0" width="50.52" height="372.08" fill="url(#hb)"/>
<rect x="1592.25" y="3408.95" width="11.3" height="755.7"/>
<rect x="1565.5" y="3408.95" width="32.4" height="10.9"/>
<text class="a b" font-size="56" text-anchor="end" transform="translate(1556.1 3434.62) scale(0.99 1)">250</text>
<rect x="1565.5" y="3557.91" width="32.4" height="10.9"/>
<text class="a b" font-size="56" text-anchor="end" transform="translate(1556.1 3583.58) scale(0.99 1)">200</text>
<rect x="1565.5" y="3706.87" width="32.4" height="10.9"/>
<text class="a b" font-size="56" text-anchor="end" transform="translate(1556.1 3732.54) scale(0.99 1)">150</text>
<rect x="1565.5" y="3855.83" width="32.4" height="10.9"/>
<text class="a b" font-size="56" text-anchor="end" transform="translate(1556.1 3881.5) scale(0.99 1)">100</text>
<rect x="1565.5" y="4004.79" width="32.4" height="10.9"/>
<text class="a b" font-size="56" text-anchor="end" transform="translate(1556.1 4030.46) scale(0.99 1)">50</text>
<rect x="1565.5" y="4153.75" width="32.4" height="10.9"/>
<text class="a b" font-size="56" text-anchor="end" transform="translate(1556.1 4179.42) scale(0.99 1)">0</text>
<rect x="1565.4" y="4153.75" width="780.4" height="10.9"/>
<rect x="1768.85" y="4159.2" width="11.3" height="31.8"/>
<rect x="2156.35" y="4159.2" width="11.3" height="31.8"/>
<text class="s b" font-size="57.11" x="1680.54" y="4248.8">Control</text>
<text class="s b" font-size="56.39" x="2030.47" y="4248.8">Heat stress</text>
<text class="s b" font-size="60.44" transform="translate(1425.5 4011.02) rotate(-90)">SOD activity (U/g)</text>
<text class="st" font-size="69.6" transform="translate(2144.2 3782.05) scale(1.023 1)">*</text>
<text class="st" font-size="69.6" transform="translate(2250.3 3758.65) scale(1.023 1)">*</text>
</g>
</svg>
</body>
</html>
